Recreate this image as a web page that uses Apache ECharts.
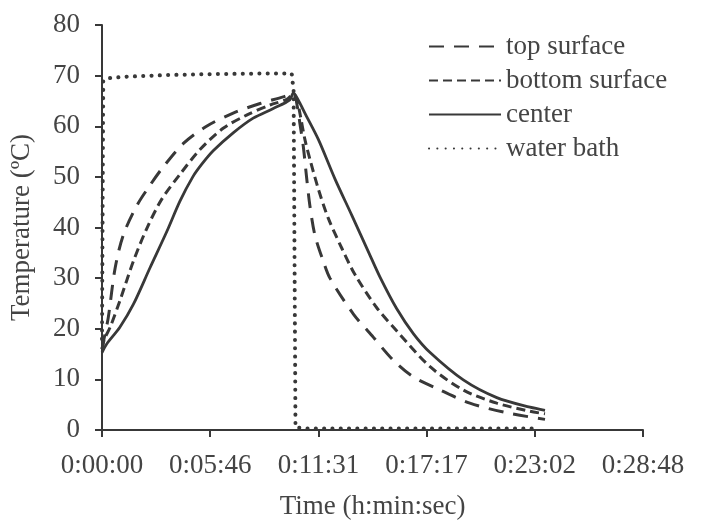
<!DOCTYPE html>
<html>
<head>
<meta charset="utf-8">
<script src="https://cdn.jsdelivr.net/npm/echarts@6/dist/echarts.min.js"></script>
<style>html,body{margin:0;padding:0;background:#fff;}#c{width:701px;height:525px;}</style>
</head>
<body>
<div id="c"></div>
<script>
// time in seconds, temperature in °C
const seriesNames = ['top surface', 'bottom surface', 'center', 'water bath'];
const xTickLabels = ['0:00:00', '0:05:46', '0:11:31', '0:17:17', '0:23:02', '0:28:48'];
const yTicks = [0, 10, 20, 30, 40, 50, 60, 70, 80];

const topSurface = [
  [0, 16], [8, 18.5], [20, 22.2], [42, 32], [68, 38.5], [111, 44.3], [155, 48.5], [196, 52],
  [260, 56.6], [334, 60], [419, 62.6], [505, 64.5], [579, 65.8], [611, 66.5],
  [625, 63.5], [632, 60.6], [643, 56], [654, 49.6], [664, 44.3], [680, 38.5], [707, 33.3], [728, 30],
  [803, 22.9], [867, 18.3], [930, 13.8], [994, 10.5], [1080, 7.9], [1175, 5.3], [1293, 3.4], [1415, 2.1]
];
const bottomSurface = [
  [0, 16], [8, 18], [26, 20.3], [57, 25.5], [100, 33.3], [143, 39.8], [190, 45.5], [249, 50.5],
  [313, 55.4], [387, 59.6], [462, 62.2], [537, 64.2], [590, 65.3], [611, 66.3],
  [625, 64.5], [632, 62.6], [648, 57.4], [664, 53.5], [691, 47.6], [723, 41.8], [766, 35.9], [808, 30.7],
  [877, 24.2], [941, 19.6], [1048, 12.5], [1154, 7.9], [1261, 5.3], [1367, 3.7], [1415, 3.2]
];
const center = [
  [0, 15.3], [15, 17], [57, 20.3], [100, 24.8], [153, 32], [207, 39.2], [249, 45.2], [290, 50],
  [320, 52.6], [356, 55.2], [419, 58.7], [483, 61.6], [547, 63.5], [600, 65.2], [611, 66.6],
  [630, 64.8], [648, 62.6], [691, 57.4], [744, 49.6], [798, 42.4], [851, 35.2], [888, 30.2], [941, 24],
  [995, 19], [1048, 15.3], [1154, 9.9], [1261, 6.4], [1367, 4.5], [1415, 3.9]
];
const waterBath = [
  [0, 18], [4, 69], [20, 69.5], [80, 69.8], [200, 70.1], [350, 70.3], [500, 70.4], [606, 70.4],
  [612, 67], [618, 0.5], [650, 0.3], [1000, 0.3], [1375, 0.3]
];

const ink = '#383838';
const txt = '#444';
const font = 'Liberation Serif';
const fs = 27;

const chart = echarts.init(document.getElementById('c'));
chart.setOption({
  backgroundColor: '#fff',
  animation: false,
  grid: { left: 102, right: 58, top: 25, bottom: 89, containLabel: false },
  legend: {
    orient: 'vertical',
    left: 423,
    top: 28,
    itemWidth: 72,
    itemHeight: 12,
    itemGap: 7,
    itemStyle: { opacity: 0 },
    textStyle: { fontFamily: font, fontSize: fs, color: txt },
    data: seriesNames
  },
  xAxis: {
    type: 'value',
    min: 0,
    max: 1728,
    interval: 345.6,
    name: 'Time (h:min:sec)',
    nameLocation: 'middle',
    nameGap: 63,
    nameTextStyle: { fontFamily: font, fontSize: fs, color: txt },
    axisLine: { show: true, lineStyle: { color: ink, width: 2 } },
    axisTick: { show: true, length: 7, inside: false, lineStyle: { color: ink, width: 2 } },
    splitLine: { show: false },
    axisLabel: {
      fontFamily: font, fontSize: fs, color: txt, margin: 22,
      formatter: v => xTickLabels[Math.round(v / 345.6)] || ''
    }
  },
  yAxis: {
    type: 'value',
    min: 0,
    max: 80,
    interval: 10,
    name: 'Temperature (ºC)',
    nameLocation: 'middle',
    nameGap: 67,
    nameTextStyle: { fontFamily: font, fontSize: fs, color: txt },
    axisLine: { show: true, lineStyle: { color: ink, width: 2 } },
    axisTick: { show: true, length: 7, inside: false, lineStyle: { color: ink, width: 2 } },
    splitLine: { show: false },
    axisLabel: {
      fontFamily: font, fontSize: fs, color: txt, margin: 22,
      formatter: v => (yTicks.indexOf(v) >= 0 ? String(v) : '')
    }
  },
  series: [
    {
      name: seriesNames[0], type: 'line', data: topSurface, symbol: 'none', showSymbol: false,
      smooth: 0.3, itemStyle: { color: ink },
      lineStyle: { color: ink, width: 3, type: [15, 10] }
    },
    {
      name: seriesNames[1], type: 'line', data: bottomSurface, symbol: 'none', showSymbol: false,
      smooth: 0.3, itemStyle: { color: ink },
      lineStyle: { color: ink, width: 3, type: [9, 5] }
    },
    {
      name: seriesNames[2], type: 'line', data: center, symbol: 'none', showSymbol: false,
      smooth: 0.3, itemStyle: { color: ink },
      lineStyle: { color: ink, width: 2.8, type: 'solid' }
    },
    {
      name: seriesNames[3], type: 'line', data: waterBath, symbol: 'none', showSymbol: false,
      smooth: false, itemStyle: { color: ink },
      lineStyle: { color: ink, width: 4, type: [0.1, 8.2], cap: 'round' }
    }
  ]
});
</script>
</body>
</html>
